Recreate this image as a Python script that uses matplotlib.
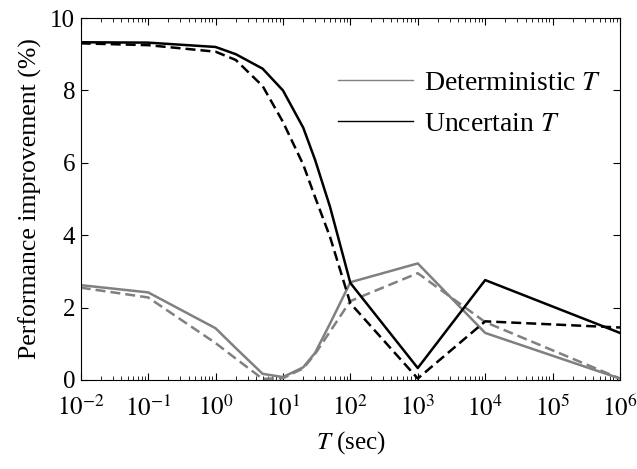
import matplotlib
matplotlib.use("Agg")
import matplotlib.pyplot as plt
from matplotlib.lines import Line2D
from matplotlib.ticker import LogLocator, FixedLocator

plt.rcParams['font.family'] = ['Liberation Serif', 'DejaVu Serif']
plt.rcParams['mathtext.fontset'] = 'stix'

# horizon T (sec)
T = [1e-2, 1e-1, 1e0, 2, 5, 10, 20, 30, 50, 1e2, 1e3, 1e4, 1e6]

# uncertain T (black)
unc_solid = [9.33, 9.32, 9.20, 9.00, 8.60, 8.00, 6.97, 6.08, 4.78, 2.68, 0.33, 2.76, 1.30]
unc_dash = [9.30, 9.25, 9.07, 8.84, 8.12, 7.13, 5.95, 5.05, 3.95, 2.12, 0.04, 1.62, 1.45]

# deterministic T (gray)
det_solid = [2.62, 2.42, 1.43, 0.88, 0.17, 0.08, 0.35, 0.75, 1.56, 2.70, 3.22, 1.30, 0.04]
det_dash = [2.55, 2.28, 1.02, 0.59, 0.03, 0.05, 0.32, 0.72, 1.34, 2.18, 2.95, 1.60, 0.04]

gray = '#808080'

fig = plt.figure(figsize=(6.37, 4.69), dpi=100)
ax = fig.add_axes([0.1267, 0.1898, 0.8466, 0.7718])

ax.plot(T, det_solid, color=gray, lw=1.8)
ax.plot(T, det_dash, color=gray, lw=1.8, dashes=(4, 2))
ax.plot(T, unc_solid, color='black', lw=1.8)
ax.plot(T, unc_dash, color='black', lw=1.8, dashes=(4, 2))

ax.set_xscale('log')
ax.set_xlim(1e-2, 1e6)
ax.set_ylim(0, 10)
ax.set_yticks([0, 2, 4, 6, 8, 10])
ax.xaxis.set_major_locator(FixedLocator([10.0 ** k for k in range(-2, 7)]))
ax.xaxis.set_minor_locator(LogLocator(base=10, subs=range(2, 10), numticks=20))
ax.set_xticklabels([r'$10^{%d}$' % k for k in range(-2, 7)])

ax.tick_params(which='both', direction='in', top=True, right=True, labelsize=18)
ax.tick_params(which='major', length=5)
ax.tick_params(which='minor', length=3)
ax.tick_params(axis='x', pad=11)
ax.tick_params(axis='y', pad=4)

ax.set_xlabel(r'$T$ (sec)', fontsize=18, labelpad=6)
ax.set_ylabel('Performance improvement (%)', fontsize=18.5, labelpad=6)

handles = [Line2D([], [], color=gray, lw=1.0), Line2D([], [], color='black', lw=1.0)]
ax.legend(handles, [r'Deterministic $T$', r'Uncertain $T$'], loc='center left',
          bbox_to_anchor=(0.477, 0.764), frameon=False, fontsize=20,
          borderpad=0, borderaxespad=0,
          handlelength=2.7, handletextpad=0.4, labelspacing=0.55)

fig.savefig('out.png', dpi=100)
